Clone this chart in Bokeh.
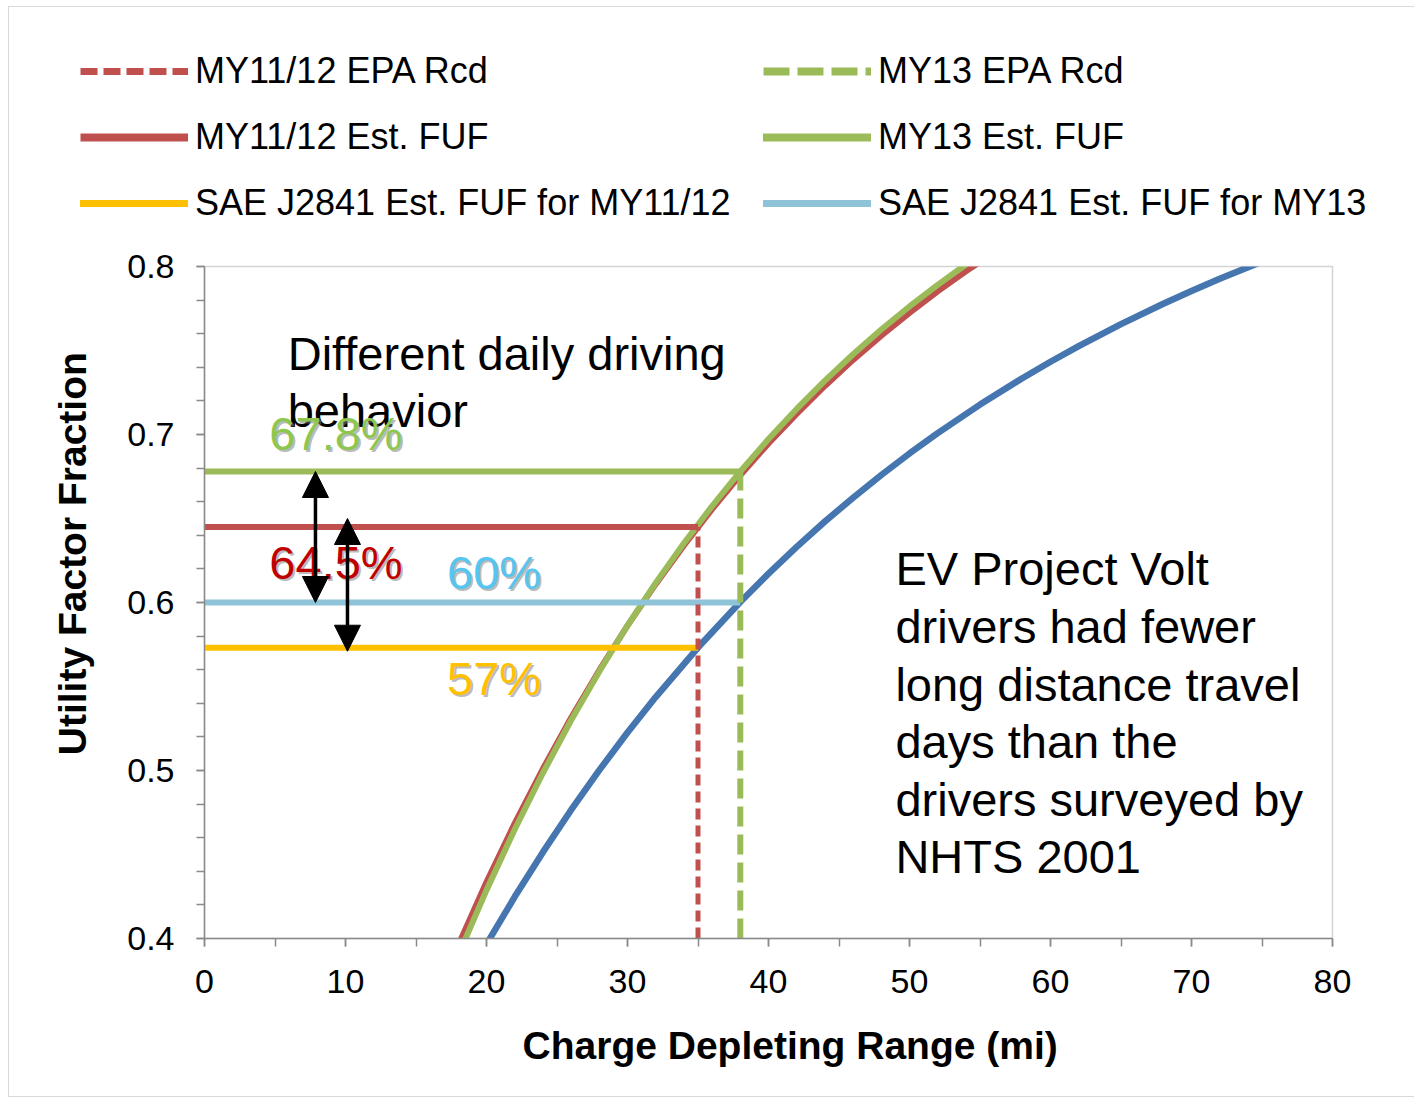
from bokeh.plotting import figure
from bokeh.layouts import column, row
from bokeh.models import (Range1d, SingleIntervalTicker, Legend, LegendItem,
                          Arrow, NormalHead, PrintfTickFormatter, InlineStyleSheet)
from bokeh.core.properties import value
from bokeh.embed import file_html
from bokeh.resources import INLINE

# ---------------- data ----------------
cd_range_fit = [16, 18, 20, 22, 24, 26, 28, 30, 32, 34, 36, 38, 40, 42, 44, 46, 48, 50, 52, 54, 56]
my1112_est_fuf = [0.3560, 0.3961, 0.4336, 0.4685, 0.5010, 0.5314, 0.5597, 0.5862, 0.6109, 0.6340,
                  0.6556, 0.6758, 0.6947, 0.7123, 0.7289, 0.7444, 0.7588, 0.7724, 0.7852, 0.7971,
                  0.8083]
my13_est_fuf = [0.3483, 0.3900, 0.4288, 0.4649, 0.4985, 0.5299, 0.5590, 0.5863, 0.6116, 0.6353,
                0.6574, 0.6780, 0.6973, 0.7152, 0.7321, 0.7478, 0.7625, 0.7762, 0.7891, 0.8012,
                0.8124]

sae_range = [18, 20, 22, 24, 26, 28, 30, 32, 35, 38, 40, 42, 44, 46, 48, 50, 52, 55, 58, 60,
             62, 65, 68, 70, 72, 75]
sae_uf = [0.3666, 0.3966, 0.4248, 0.4514, 0.4765, 0.5002, 0.5226, 0.5437, 0.5732, 0.6003,
          0.6172, 0.6331, 0.6482, 0.6624, 0.6759, 0.6887, 0.7008, 0.7178, 0.7335, 0.7433,
          0.7526, 0.7657, 0.7778, 0.7854, 0.7927, 0.8029]

model_years = ["MY11/12", "MY13"]
epa_range = [35, 38]                 # EPA rated charge-depleting range (mi)
est_fuf_at_epa = [0.645, 0.678]      # estimated FUF at EPA range
sae_fuf_at_epa = [0.573, 0.600]      # SAE J2841 FUF at EPA range
est_pct_labels = ["64.5%", "67.8%"]
sae_pct_labels = ["57%", "60%"]

x_min, x_max = 0, 80
y_min, y_max = 0.4, 0.8

legend_labels = ["MY11/12 EPA Rcd", "MY11/12 Est. FUF", "SAE J2841 Est. FUF for MY11/12",
                 "MY13 EPA Rcd", "MY13 Est. FUF", "SAE J2841 Est. FUF for MY13"]

x_title = "Charge Depleting Range (mi)"
y_title = "Utility Factor Fraction"
note_left = ["Different daily driving", "behavior"]
note_right = ["EV Project Volt", "drivers had fewer", "long distance travel",
              "days than the", "drivers surveyed by", "NHTS 2001"]

# ---------------- styles ----------------
RED = "#C0504D"
GREEN = "#9BBB59"
YELLOW = "#FFC000"
LBLUE = "#8EC3D8"
DBLUE = "#4676AF"
AXIS_GRAY = "#8A8A8A"
FONT = "Liberation Sans"
NB = "\u00a0"
NAN = float("nan")

# ---------------- legend strip (top) ----------------
pl = figure(width=1414, height=236, x_axis_type=None, y_axis_type=None,
            x_range=Range1d(0, 1), y_range=Range1d(0, 1),
            output_backend="svg", toolbar_location=None, min_border=0)
pl.grid.visible = False
pl.outline_line_color = None
pl.background_fill_color = "white"
pl.border_fill_color = "white"

# legend-only glyphs (no visible data)
lg_red_dash = pl.line([NAN], [NAN], line_color=RED, line_width=7, line_dash="17 6")
lg_red = pl.line([NAN], [NAN], line_color=RED, line_width=8)
lg_yellow = pl.line([NAN], [NAN], line_color=YELLOW, line_width=7, line_cap="round")
lg_green_dash = pl.line([NAN], [NAN], line_color=GREEN, line_width=8, line_dash="26 8")
lg_green = pl.line([NAN], [NAN], line_color=GREEN, line_width=8, line_cap="round")
lg_lblue = pl.line([NAN], [NAN], line_color=LBLUE, line_width=7, line_cap="round")

LEG = dict(label_text_font=FONT, label_text_font_size="36px", label_text_color="black",
           label_text_baseline="middle", glyph_width=108, glyph_height=42, label_height=42,
           label_standoff=7, spacing=24, padding=0, margin=0, border_line_color=None,
           background_fill_alpha=0)
leg1 = Legend(items=[LegendItem(label=legend_labels[0], renderers=[lg_red_dash]),
                     LegendItem(label=legend_labels[1], renderers=[lg_red]),
                     LegendItem(label=legend_labels[2], renderers=[lg_yellow])],
              location=(80, 12), **LEG)
leg2 = Legend(items=[LegendItem(label=legend_labels[3], renderers=[lg_green_dash]),
                     LegendItem(label=legend_labels[4], renderers=[lg_green]),
                     LegendItem(label=legend_labels[5], renderers=[lg_lblue])],
              location=(763, 12), **LEG)
pl.add_layout(leg1)
pl.add_layout(leg2)

# ---------------- main chart ----------------
p = figure(width=1414, height=864,
           x_range=Range1d(x_min, x_max), y_range=Range1d(y_min, y_max),
           output_backend="svg", toolbar_location=None,
           min_border_left=204, min_border_right=82,
           min_border_top=30, min_border_bottom=162)
p.grid.visible = False
p.background_fill_color = "white"
p.border_fill_color = "white"
p.outline_line_color = "#D4D4D4"
p.outline_line_width = 1.5

p.xaxis.ticker = SingleIntervalTicker(interval=10, num_minor_ticks=2)
p.yaxis.ticker = SingleIntervalTicker(interval=0.1, num_minor_ticks=5)
p.yaxis.formatter = PrintfTickFormatter(format="%.1f")
for ax in (p.xaxis[0], p.yaxis[0]):
    ax.axis_line_color = AXIS_GRAY
    ax.axis_line_width = 1.5
    ax.major_tick_line_color = AXIS_GRAY
    ax.minor_tick_line_color = AXIS_GRAY
    ax.major_tick_line_width = 1.5
    ax.minor_tick_line_width = 1.5
    ax.major_tick_out = 8
    ax.major_tick_in = 0
    ax.minor_tick_out = 8
    ax.minor_tick_in = 0
    ax.major_label_text_font = FONT
    ax.major_label_text_font_size = "34px"
    ax.major_label_text_color = "black"
    ax.axis_label_text_font = FONT
    ax.axis_label_text_font_style = "bold"
    ax.axis_label_text_font_size = "39px"
    ax.axis_label_text_color = "black"
p.xaxis.major_label_standoff = 23
p.yaxis.major_label_standoff = 22
# leading no-break spaces nudge the centred titles to where the reference has them
p.xaxis.axis_label = NB * 4 + x_title
p.yaxis.axis_label = NB * 9 + y_title
p.xaxis.axis_label_standoff = 28
p.yaxis.axis_label_standoff = 30

# curves
p.line(sae_range, sae_uf, line_color=DBLUE, line_width=6.5, line_join="round")
p.line(cd_range_fit, my1112_est_fuf, line_color=RED, line_width=6, line_join="round")
p.line(cd_range_fit, my13_est_fuf, line_color=GREEN, line_width=6, line_join="round")

# horizontal reference lines
p.segment(x0=[x_min], y0=[sae_fuf_at_epa[0]], x1=[epa_range[0]], y1=[sae_fuf_at_epa[0]],
          line_color=YELLOW, line_width=6)
p.segment(x0=[x_min], y0=[sae_fuf_at_epa[1]], x1=[epa_range[1]], y1=[sae_fuf_at_epa[1]],
          line_color=LBLUE, line_width=6)
p.segment(x0=[x_min], y0=[est_fuf_at_epa[0]], x1=[epa_range[0]], y1=[est_fuf_at_epa[0]],
          line_color=RED, line_width=6)
p.segment(x0=[x_min], y0=[est_fuf_at_epa[1]], x1=[epa_range[1]], y1=[est_fuf_at_epa[1]],
          line_color=GREEN, line_width=6)

# vertical EPA range lines
p.segment(x0=[epa_range[0]], y0=[y_min], x1=[epa_range[0]], y1=[est_fuf_at_epa[0]],
          line_color=RED, line_width=5, line_dash="11 6")
p.segment(x0=[epa_range[1]], y0=[y_min], x1=[epa_range[1]], y1=[est_fuf_at_epa[1]],
          line_color=GREEN, line_width=6, line_dash="20 8")

# text annotations
TXT = dict(text_font=value(FONT), text_font_size="47px", text_baseline="middle",
           text_align="left")
p.text(x=[5.9, 5.9], y=[0.748, 0.714], text=note_left, text_color="black", **TXT)
p.text(x=[49.0] * 6, y=[0.620, 0.586, 0.551, 0.517, 0.483, 0.449], text=note_right,
       text_color="black", **TXT)

pct_x = [4.6, 4.6, 17.2, 17.2]
pct_y = [est_fuf_at_epa[1] + 0.0226, est_fuf_at_epa[0] - 0.0212,
         sae_fuf_at_epa[1] + 0.018, sae_fuf_at_epa[0] - 0.0185]
pct_text = [est_pct_labels[1], est_pct_labels[0], sae_pct_labels[1], sae_pct_labels[0]]
pct_col = ["#8DC750", "#C00000", "#56C5F0", "#FFC000"]
p.text(x=pct_x, y=pct_y, text=pct_text, text_color="#7F7F7F", text_alpha=0.55,
       x_offset=2, y_offset=2, **TXT)
p.text(x=pct_x, y=pct_y, text=pct_text, text_color=pct_col, **TXT)

# difference arrows
def head():
    return NormalHead(size=26, fill_color="black", line_color="black", line_width=1)

p.add_layout(Arrow(x_start=7.87, y_start=sae_fuf_at_epa[1], x_end=7.87, y_end=est_fuf_at_epa[1],
                   start=head(), end=head(), line_color="black", line_width=3.5))
p.add_layout(Arrow(x_start=10.14, y_start=sae_fuf_at_epa[0] - 0.002, x_end=10.14,
                   y_end=est_fuf_at_epa[0] + 0.005,
                   start=head(), end=head(), line_color="black", line_width=3.5))

# ---------------- page ----------------
frame_css = InlineStyleSheet(css="""
:host { position: relative; }
:host::after {
  content: ''; position: absolute; left: 8px; top: 6px; right: 0px; bottom: 3px;
  border: 1.5px solid #D9D9D9; border-right: none; pointer-events: none; z-index: 10;
}
""")
layout = column(row(pl, spacing=0), p, spacing=0, stylesheets=[frame_css])

open("out.html", "w").write(file_html(layout, INLINE))
